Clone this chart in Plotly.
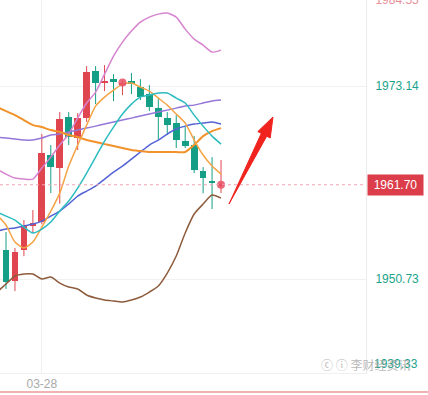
import plotly.graph_objects as go

# ---------------- data ----------------
candle_idx = list(range(25))
opens  = [1954.12, 1950.52, 1954.12, 1956.90, 1957.37, 1965.15, 1963.64, 1969.56, 1967.12, 1969.44,
          1974.90, 1973.57, 1973.97, 1973.39, 1973.74, 1973.04, 1972.23, 1970.60, 1969.44, 1968.86,
          1966.77, 1966.31, 1963.29, 1962.13, 1961.58]
closes = [1950.40, 1953.88, 1956.90, 1957.25, 1965.38, 1963.75, 1969.33, 1967.24, 1969.44, 1974.78,
          1973.51, 1973.68, 1973.62, 1973.57, 1973.51, 1971.88, 1970.72, 1969.56, 1968.63, 1966.89,
          1966.19, 1963.41, 1962.48, 1962.01, 1961.70]
highs  = [1956.21, 1954.35, 1957.60, 1958.76, 1967.60, 1966.31, 1970.14, 1970.14, 1970.02, 1975.48,
          1975.48, 1975.60, 1974.55, 1973.86, 1974.67, 1973.97, 1973.27, 1971.65, 1970.14, 1969.79,
          1968.40, 1967.35, 1963.75, 1964.91, 1964.57]
lows   = [1949.60, 1949.35, 1953.40, 1956.09, 1957.13, 1960.73, 1959.50, 1966.31, 1965.73, 1969.00,
          1971.07, 1972.58, 1971.42, 1972.11, 1972.23, 1971.53, 1970.26, 1967.00, 1967.47, 1965.96,
          1965.96, 1963.06, 1960.70, 1958.88, 1960.74]

line_idx = list(range(-1, 25))
boll_upper = [1963.52, 1962.94, 1962.48, 1962.36, 1962.36, 1963.64, 1964.91, 1966.31, 1967.59, 1969.44,
              1971.19, 1972.46, 1974.55, 1976.64, 1978.27, 1979.55, 1980.59, 1981.17, 1981.52, 1981.64,
              1981.17, 1979.78, 1978.62, 1977.92, 1977.11, 1977.34]
boll_lower = [1949.24, 1950.17, 1951.10, 1951.33, 1951.33, 1950.75, 1950.98, 1950.28, 1949.82, 1949.59,
              1948.89, 1948.54, 1948.31, 1948.19, 1948.08, 1948.31, 1948.66, 1949.24, 1949.94, 1951.44,
              1953.42, 1956.09, 1958.30, 1959.46, 1960.50, 1960.15]
ma_purple = [1967.24, 1967.12, 1967.00, 1966.89, 1966.89, 1967.12, 1967.47, 1967.59, 1967.82, 1968.05,
             1968.28, 1968.51, 1968.75, 1968.98, 1969.21, 1969.44, 1969.68, 1969.91, 1970.14, 1970.37,
             1970.60, 1970.84, 1970.95, 1971.19, 1971.42, 1971.53]
ma_blue = [1956.32, 1956.55, 1956.67, 1956.90, 1957.13, 1957.48, 1958.06, 1958.64, 1959.46, 1960.39,
           1960.97, 1961.55, 1962.36, 1963.17, 1963.87, 1964.68, 1965.50, 1966.31, 1966.89, 1967.59,
           1968.17, 1968.51, 1968.75, 1968.86, 1968.98, 1968.75]
ma_teal = [1958.53, 1958.06, 1957.60, 1956.79, 1956.09, 1956.55, 1957.37, 1958.64, 1959.81, 1961.31,
           1963.06, 1964.91, 1966.77, 1968.40, 1969.91, 1971.07, 1971.88, 1972.11, 1972.35, 1972.35,
           1971.77, 1971.19, 1969.79, 1968.51, 1967.35, 1966.42]
ma_orange = [1970.72, 1970.26, 1969.79, 1969.21, 1968.63, 1968.40, 1968.05, 1967.82, 1967.47, 1967.24,
             1966.89, 1966.66, 1966.42, 1966.19, 1965.96, 1965.73, 1965.61, 1965.50, 1965.50, 1965.50,
             1965.50, 1965.50, 1966.31, 1967.35, 1967.93, 1968.28]
ma_orange_fast = [1958.18, 1957.02, 1955.04, 1954.35, 1955.04, 1956.79, 1958.64, 1960.73, 1963.87, 1966.31,
                  1968.63, 1970.84, 1971.88, 1972.69, 1973.39, 1973.51, 1973.04, 1972.58, 1971.77, 1970.95,
                  1969.91, 1968.86, 1966.89, 1965.15, 1963.87, 1962.94]

signal_idx = [13, 24]
date_tick_idx = [4]
date_tick_text = ["03-28"]
price_ticks = [1983.145, 1973.14, 1950.73]
price_tick_text = ["1984.55", "1973.14", "1950.73"]
bottom_label = "1939.33"
last_price = 1961.70

RED = "#e0464f"
GREEN = "#149f86"
FONT = "Liberation Sans, Arial, sans-serif"

fig = go.Figure()

# wicks
for col, cond in [(RED, lambda o, c: c >= o), (GREEN, lambda o, c: c < o)]:
    wx, wy = [], []
    for i, o, c, h, l in zip(candle_idx, opens, closes, highs, lows):
        if cond(o, c):
            wx += [i, i, None]
            wy += [l, h, None]
    fig.add_trace(go.Scatter(x=wx, y=wy, mode="lines", line=dict(color=col, width=1),
                             hoverinfo="skip"))

# bodies
for col, cond in [(RED, lambda o, c: c >= o), (GREEN, lambda o, c: c < o)]:
    bx, bb, bh = [], [], []
    for i, o, c in zip(candle_idx, opens, closes):
        if cond(o, c):
            h = max(abs(c - o), 0.14)
            bx.append(i)
            bb.append(min(o, c) - (h - abs(c - o)) / 2)
            bh.append(h)
    fig.add_trace(go.Bar(x=bx, y=bh, base=bb, width=0.75, marker=dict(color=col, line=dict(width=0)),
                         hoverinfo="skip"))

# indicator lines
lines = [
    (boll_upper, "#d684cf", 1.5),
    (boll_lower, "#8d5b3b", 1.5),
    (ma_purple, "#9477d9", 1.5),
    (ma_blue, "#5463d4", 1.5),
    (ma_orange, "#f2922b", 2),
    (ma_orange_fast, "#f5a445", 1.5),
    (ma_teal, "#2cbcc0", 1.5),
]
for vals, col, w in lines:
    fig.add_trace(go.Scatter(x=line_idx, y=vals, mode="lines",
                             line=dict(color=col, width=w, shape="spline", smoothing=0.6),
                             hoverinfo="skip"))

# signal dots
fig.add_trace(go.Scatter(x=signal_idx, y=[closes[i] for i in signal_idx], mode="markers",
                         marker=dict(color="rgba(232,80,100,0.85)", size=8), hoverinfo="skip"))

fig.update_layout(
    width=428, height=395,
    margin=dict(l=0, r=62, t=0, b=22, autoexpand=False),
    plot_bgcolor="white", paper_bgcolor="white",
    showlegend=False, bargap=0,
    font=dict(family=FONT),
    xaxis=dict(range=[-0.67, 40.18], tickvals=date_tick_idx, ticktext=date_tick_text,
               automargin=False,
               showgrid=True, gridcolor="#f1f1f1", zeroline=False, showline=True,
               linecolor="#f0f0f0", ticks="", tickfont=dict(color="#a9a9a9", size=12)),
    yaxis=dict(range=[1939.833, 1983.16], side="right", tickvals=price_ticks,
               ticktext=[f'<span style="color:#e8909a">{price_tick_text[0]}</span>'] + price_tick_text[1:],
               automargin=False, ticklabeloverflow="allow",
               showgrid=True, gridcolor="#f1f1f1", zeroline=False, showline=True,
               linecolor="#ececec", ticks="", ticklabelstandoff=6,
               tickfont=dict(color="#1aa38a", size=12)),
)

# current price dotted line
fig.add_shape(type="line", xref="paper", x0=0, x1=1, yref="y", y0=last_price, y1=last_price,
              line=dict(color="#f0a5b3", width=1, dash="dot"))
# bottom pink rule
fig.add_shape(type="line", xref="paper", x0=0, x1=1.17, yref="paper", y0=-0.051, y1=-0.051,
              line=dict(color="#f3b2b2", width=2))
# red arrow
fig.add_shape(type="path", xref="paper", yref="paper",
              path="M 0.6257 0.4531 L 0.7287 0.6349 L 0.7383 0.6300 L 0.7459 0.6863 L 0.7044 0.6472 L 0.7139 0.6424 Z",
              fillcolor="#f0231e", line=dict(color="#f0231e", width=1))

# price label
fig.add_annotation(xref="paper", x=1, xanchor="left", xshift=1, yref="y", y=last_price,
                   text=f"{last_price:.2f}", showarrow=False, bgcolor="#dc3d4b",
                   font=dict(color="white", size=12, family=FONT), width=51, height=16, borderpad=2)
# bottom price label
fig.add_annotation(xref="paper", x=1, xanchor="left", xshift=6, yref="paper", y=0.024, yanchor="middle",
                   text=bottom_label, showarrow=False, font=dict(color="#1aa38a", size=12, family=FONT))
# watermark
fig.add_annotation(xref="paper", x=0.872, xanchor="left", yref="paper", y=0.024, yanchor="middle",
                   text="ⓒ ⓘ 李财经资讯", showarrow=False,
                   font=dict(color="rgba(160,160,160,0.75)", size=12, family="Noto Sans CJK SC"))

fig.write_html("out.html", config={"displayModeBar": False},
               post_script="document.body.style.margin='0';document.body.style.overflow='hidden';")
